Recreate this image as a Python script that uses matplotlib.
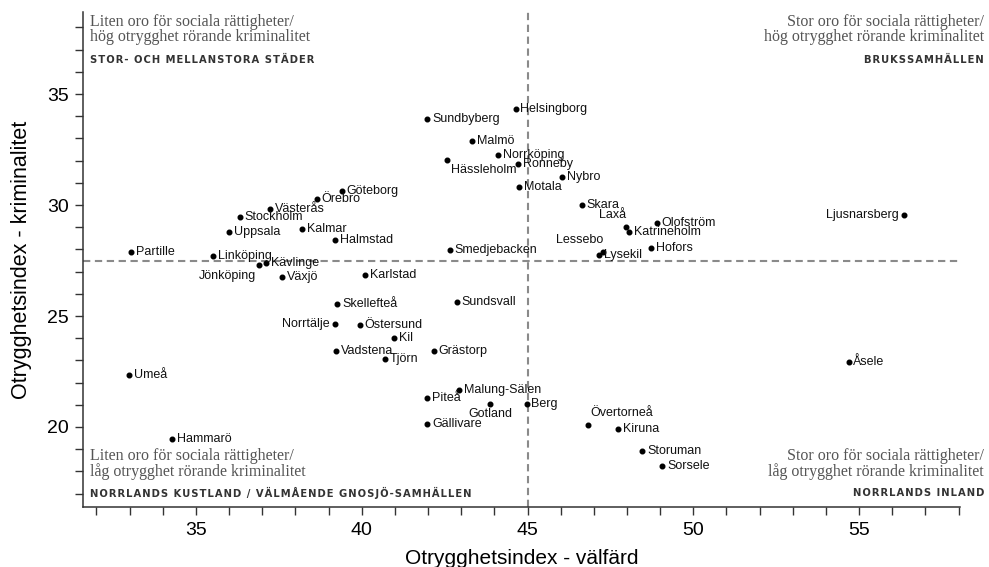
import matplotlib

matplotlib.use("Agg")

import matplotlib.pyplot as plt
from matplotlib.ticker import MultipleLocator

# Kommuner: otrygghetsindex välfärd (x) och kriminalitet (y)
cities = [
    "Helsingborg", "Sundbyberg", "Malmö", "Norrköping", "Hässleholm", "Ronneby",
    "Nybro", "Motala", "Skara", "Laxå", "Katrineholm", "Olofström", "Hofors",
    "Lessebo", "Lysekil", "Smedjebacken", "Ljusnarsberg", "Göteborg", "Örebro",
    "Västerås", "Stockholm", "Uppsala", "Kalmar", "Halmstad", "Partille",
    "Linköping", "Jönköping", "Kävlinge", "Växjö", "Karlstad", "Skellefteå",
    "Sundsvall", "Norrtälje", "Östersund", "Kil", "Vadstena", "Tjörn",
    "Grästorp", "Umeå", "Malung-Sälen", "Piteå", "Gotland", "Berg",
    "Gällivare", "Hammarö", "Åsele", "Övertorneå", "Kiruna", "Storuman",
    "Sorsele",
]
welfare = [
    44.64, 41.98, 43.34, 44.11, 42.58, 44.71,
    46.03, 44.75, 46.63, 47.98, 48.06, 48.89, 48.73,
    47.27, 47.17, 42.65, 56.36, 39.40, 38.65,
    37.23, 36.33, 36.00, 38.21, 39.20, 33.06,
    35.53, 36.89, 37.12, 37.61, 40.10, 39.27,
    42.86, 39.19, 39.95, 40.97, 39.23, 40.69,
    42.18, 32.99, 42.93, 41.96, 43.88, 44.97,
    41.98, 34.29, 54.68, 46.82, 47.74, 48.46,
    49.07,
]
crime = [
    34.32, 33.87, 32.87, 32.27, 32.04, 31.86,
    31.27, 30.82, 29.99, 29.02, 28.78, 29.17, 28.05,
    27.90, 27.75, 27.96, 29.55, 30.63, 30.27,
    29.83, 29.46, 28.77, 28.92, 28.42, 27.87,
    27.72, 27.28, 27.40, 26.74, 26.85, 25.53,
    25.62, 24.65, 24.59, 23.99, 23.42, 23.05,
    23.42, 22.34, 21.67, 21.32, 21.04, 21.05,
    20.12, 19.47, 22.91, 20.09, 19.92, 18.92,
    18.26,
]
x_split = 45.0
y_split = 27.5

# label placement that differs from "right of the dot"
label_place = {
    "Hässleholm": ((3, -3), "left", "top"),
    "Laxå": ((0, 4), "right", "bottom"),
    "Lessebo": ((0, 4), "right", "bottom"),
    "Ljusnarsberg": ((-4, 0), "right", "center"),
    "Norrtälje": ((-4, 0), "right", "center"),
    "Jönköping": ((-2, -3), "right", "top"),
    "Gotland": ((0, -3), "center", "top"),
    "Övertorneå": ((2, 4), "left", "bottom"),
}

quadrants = [
    (0.008, 0.995, 0.903, "left", "Liten oro för sociala rättigheter/\nhög otrygghet rörande kriminalitet",
     "STOR- OCH MELLANSTORA STÄDER"),
    (1.027, 0.995, 0.903, "right", "Stor oro för sociala rättigheter/\nhög otrygghet rörande kriminalitet",
     "BRUKSSAMHÄLLEN"),
    (0.008, 0.118, 0.028, "left", "Liten oro för sociala rättigheter/\nlåg otrygghet rörande kriminalitet",
     "NORRLANDS KUSTLAND / VÄLMÅENDE GNOSJÖ-SAMHÄLLEN"),
    (1.027, 0.118, 0.028, "right", "Stor oro för sociala rättigheter/\nlåg otrygghet rörande kriminalitet",
     "NORRLANDS INLAND"),
]


def spaced(text):
    return "\u200a".join(text)


fig = plt.figure(figsize=(9.89, 5.67), dpi=100)
ax = fig.add_axes([0.084, 0.106, 0.887, 0.873])

ax.axvline(x_split, color="#8a8a8a", linewidth=1.5, linestyle=(0, (3.5, 2.2)), zorder=1)
ax.axhline(y_split, color="#8a8a8a", linewidth=1.5, linestyle=(0, (3.5, 2.2)), zorder=1)

ax.scatter(welfare, crime, s=11, color="black", zorder=3)
for name, xv, yv in zip(cities, welfare, crime):
    offset, ha, va = label_place.get(name, ((3.5, 0), "left", "center"))
    ax.annotate(name, (xv, yv), xytext=offset, textcoords="offset points",
                ha=ha, va=va, fontsize=9, family="Liberation Sans", color="#111111")

for qx, qy, cy, ha, desc, tag in quadrants:
    ax.text(qx, qy, desc, transform=ax.transAxes, ha=ha, va="top",
            fontsize=11.5, family="Liberation Serif", color="#555555", linespacing=0.92)
    ax.text(qx, cy, spaced(tag), transform=ax.transAxes, ha=ha, va="center",
            fontsize=7.2, family="DejaVu Sans", fontweight="bold", color="#333333")

ax.set_xlim(31.6, 58.05)
ax.set_ylim(16.4, 38.7)
ax.xaxis.set_major_locator(MultipleLocator(5))
ax.xaxis.set_minor_locator(MultipleLocator(1))
ax.yaxis.set_major_locator(MultipleLocator(5))
ax.yaxis.set_minor_locator(MultipleLocator(1))
ax.tick_params(which="both", direction="out", length=5.5, width=1, color="#333333")
ax.tick_params(axis="y", which="major", labelsize=14, pad=4.5)
ax.tick_params(axis="x", which="major", labelsize=14, pad=5.5)
for label in ax.get_xticklabels() + ax.get_yticklabels():
    label.set_family("Liberation Sans")

for side in ("top", "right"):
    ax.spines[side].set_visible(False)
for side in ("left", "bottom"):
    ax.spines[side].set_color("#333333")
    ax.spines[side].set_linewidth(1.1)

ax.set_xlabel("Otrygghetsindex - välfärd", fontsize=15, family="Liberation Sans", labelpad=7)
ax.set_ylabel("Otrygghetsindex - kriminalitet", fontsize=15.5, family="Liberation Sans", labelpad=11)

fig.savefig("out.png", dpi=100)
